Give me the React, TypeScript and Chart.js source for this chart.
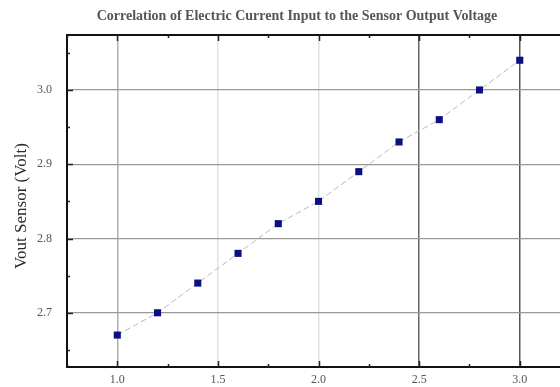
import React, { useEffect, useRef } from "react";
import { Chart, registerables } from "chart.js";

Chart.register(...registerables);

const currentInput = [1.0, 1.2, 1.4, 1.6, 1.8, 2.0, 2.2, 2.4, 2.6, 2.8, 3.0];
const voutSensor = [2.67, 2.7, 2.74, 2.78, 2.82, 2.85, 2.89, 2.93, 2.96, 3.0, 3.04];
const xTicks = [1.0, 1.5, 2.0, 2.5, 3.0];
const yTicks = [2.7, 2.8, 2.9, 3.0];
const xMinorTicks = [0.75, 1.25, 1.75, 2.25, 2.75];
const yMinorTicks = [2.65, 2.75, 2.85, 2.95, 3.05];
const titleText = "Correlation of Electric Current Input to the Sensor Output Voltage";
const yTitleText = "Vout Sensor (Volt)";

const xGridColors: Record<string, string> = {
  "1.0": "#b0b0b0",
  "1.5": "#e2e2e2",
  "2.0": "#e2e2e2",
  "2.5": "#666666",
  "3.0": "#555555",
};

const decorPlugin = {
  id: "decor",
  afterDraw(chart: any) {
    const ctx = chart.ctx;
    const xs = chart.scales.x;
    const ys = chart.scales.y;
    const a = chart.chartArea;
    ctx.save();
    ctx.strokeStyle = "#111";
    ctx.lineWidth = 2;
    ctx.beginPath();
    ctx.moveTo(a.left - 1, a.top);
    ctx.lineTo(a.right, a.top);
    ctx.stroke();
    ctx.lineWidth = 1.5;
    ctx.strokeStyle = "#222";
    const drawX = (v: number, len: number) => {
      const px = Math.round(xs.getPixelForValue(v)) + 0.5;
      ctx.beginPath();
      ctx.moveTo(px, a.top);
      ctx.lineTo(px, a.top + len);
      ctx.moveTo(px, a.bottom);
      ctx.lineTo(px, a.bottom - len);
      ctx.stroke();
    };
    xTicks.forEach((v) => drawX(v, 6));
    xMinorTicks.forEach((v) => drawX(v, 3));
    const drawY = (v: number, len: number) => {
      const py = Math.round(ys.getPixelForValue(v)) + 0.5;
      ctx.beginPath();
      ctx.moveTo(a.left, py);
      ctx.lineTo(a.left + len, py);
      ctx.stroke();
    };
    yTicks.forEach((v) => drawY(v, 6));
    yMinorTicks.forEach((v) => drawY(v, 3));
    ctx.fillStyle = "#555";
    ctx.font = "bold 14px 'Liberation Serif', serif";
    ctx.textAlign = "center";
    ctx.textBaseline = "middle";
    ctx.fillText(titleText, 297, 16);
    ctx.translate(22, (a.top + a.bottom) / 2 + 5);
    ctx.rotate(-Math.PI / 2);
    ctx.fillStyle = "#2a2a2a";
    ctx.font = "17px 'Liberation Serif', serif";
    ctx.fillText(yTitleText, 0, 0);
    ctx.restore();
  },
};

export default function App() {
  const ref = useRef<HTMLCanvasElement | null>(null);
  useEffect(() => {
    document.body.style.margin = "0";
    const chart = new Chart(ref.current as HTMLCanvasElement, {
      type: "line",
      data: {
        datasets: [
          {
            data: currentInput.map((x, i) => ({ x, y: voutSensor[i] })),
            borderColor: "#b8b8c0",
            borderWidth: 1,
            borderDash: [6, 3],
            pointStyle: "rect",
            pointRadius: 5,
            pointBackgroundColor: "#0a1080",
            pointBorderColor: "#0a1080",
            pointBorderWidth: 0,
            tension: 0,
          },
        ],
      },
      options: {
        animation: false,
        responsive: false,
        layout: { autoPadding: false, padding: { top: 35, right: 0, left: 0, bottom: 0 } },
        plugins: { legend: { display: false }, tooltip: { enabled: false }, title: { display: false } },
        scales: {
          x: {
            type: "linear",
            min: 0.75,
            max: 3.2,
            afterBuildTicks: (s: any) => {
              s.ticks = xTicks.map((v) => ({ value: v }));
            },
            afterFit: (s: any) => {
              s.height = 20;
              s.paddingRight = 0;
              s.paddingLeft = 0;
            },
            border: { color: "#111", width: 2 },
            grid: {
              drawTicks: false,
              color: (c: any) => xGridColors[Number(c.tick?.value).toFixed(1)] || "#ccc",
              lineWidth: 1.5,
            },
            ticks: {
              padding: 6,
              color: "#555",
              font: { family: "'Liberation Serif', serif", size: 12 },
              callback: (v: any) => Number(v).toFixed(1),
              maxRotation: 0,
            },
          },
          y: {
            type: "linear",
            min: 2.627,
            max: 3.074,
            afterBuildTicks: (s: any) => {
              s.ticks = yTicks.map((v) => ({ value: v }));
            },
            afterFit: (s: any) => {
              s.width = 67;
              s.paddingTop = 0;
              s.paddingBottom = 0;
            },
            border: { color: "#111", width: 2 },
            grid: { drawTicks: false, color: "#999", lineWidth: 1.2 },
            ticks: {
              padding: 15,
              color: "#555",
              font: { family: "'Liberation Serif', serif", size: 12 },
              callback: (v: any) => Number(v).toFixed(1),
            },
          },
        },
      },
      plugins: [decorPlugin],
    } as any);
    return () => chart.destroy();
  }, []);
  return <canvas ref={ref} width={560} height={387} style={{ display: "block" }} />;
}
